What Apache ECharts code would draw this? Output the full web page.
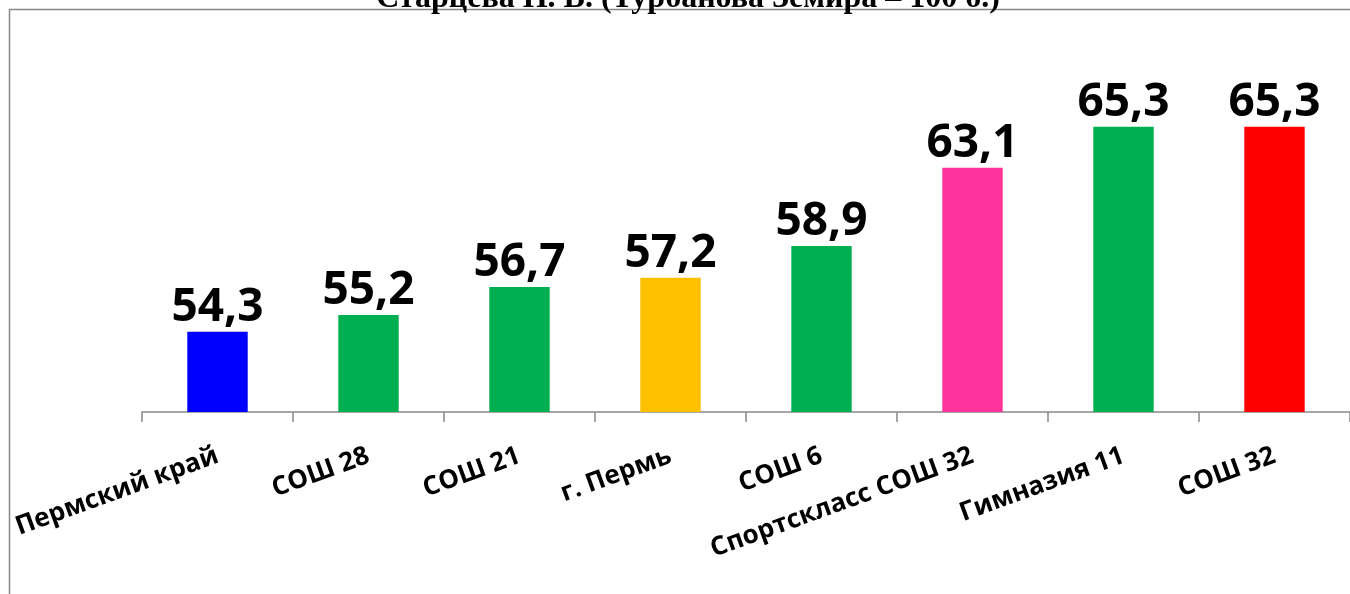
<!DOCTYPE html>
<html>
<head>
<meta charset="utf-8">
<script src="https://cdn.jsdelivr.net/npm/echarts@6/dist/echarts.min.js"></script>
<style>
html,body{margin:0;padding:0;background:#fff;}
#chart{width:1350px;height:594px;}
</style>
</head>
<body>
<div id="chart"></div>
<script>
const titleText = 'Старцева Н. В. (Турбанова Земира – 100 б.)';
const categories = ['Пермский край', 'СОШ 28', 'СОШ 21', 'г. Пермь', 'СОШ 6', 'Спортскласс СОШ 32', 'Гимназия 11', 'СОШ 32'];
const values = [54.3, 55.2, 56.7, 57.2, 58.9, 63.1, 65.3, 65.3];
const barColors = ['#0000FF', '#00B050', '#00B050', '#FFC000', '#00B050', '#FF3399', '#00B050', '#FF0000'];

const chart = echarts.init(document.getElementById('chart'), null, {renderer: 'canvas'});
chart.setOption({
  animation: false,
  backgroundColor: '#ffffff',
  graphic: [
    {
      type: 'rect',
      shape: {x: 9.5, y: 9.5, width: 1400, height: 700},
      style: {fill: 'none', stroke: '#888888', lineWidth: 1.5},
      silent: true
    },
    {
      type: 'text',
      x: 688, y: 15,
      style: {
        text: titleText,
        font: 'bold 32px "Liberation Serif", "Times New Roman", serif',
        fill: '#000',
        align: 'center',
        verticalAlign: 'bottom'
      },
      silent: true
    }
  ],
  grid: {left: 142, width: 1216, top: 39, height: 373, containLabel: false},
  xAxis: {
    type: 'category',
    data: categories,
    axisLine: {show: true, lineStyle: {color: '#888888', width: 1.5}},
    axisTick: {show: true, length: 10, lineStyle: {color: '#888888', width: 1.5}},
    axisLabel: {
      rotate: 20,
      margin: 43,
      interval: 0,
      color: '#000',
      fontFamily: '"Open Sans", sans-serif',
      fontWeight: 'bold',
      fontSize: 26
    }
  },
  yAxis: {
    type: 'value',
    min: 50, max: 70,
    show: false,
    splitLine: {show: false}
  },
  series: [{
    type: 'bar',
    data: values.map((v, i) => ({value: v, itemStyle: {color: barColors[i]}})),
    barWidth: '40%',
    label: {
      show: true,
      position: 'top',
      distance: 1,
      color: '#000',
      fontFamily: '"Open Sans", sans-serif',
      fontWeight: 'bold',
      fontSize: 46,
      formatter: p => String(p.value).replace('.', ',')
    }
  }]
});
</script>
</body>
</html>
